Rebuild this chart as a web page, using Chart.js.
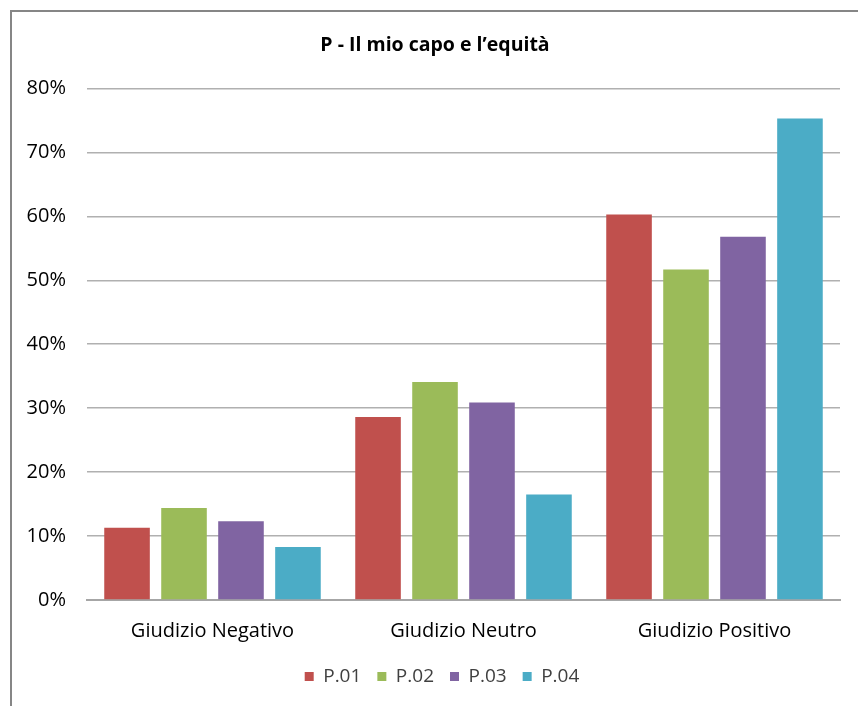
<!DOCTYPE html>
<html>
<head>
<meta charset="utf-8">
<script src="https://cdn.jsdelivr.net/npm/chart.js@4"></script>
<style>
html,body{margin:0;padding:0;background:#fff;}
#wrap{position:relative;width:858px;height:706px;}
</style>
</head>
<body>
<div id="wrap"><canvas id="c" width="858" height="706"></canvas></div>
<script>
const categories = ["Giudizio Negativo", "Giudizio Neutro", "Giudizio Positivo"];
const seriesNames = ["P.01", "P.02", "P.03", "P.04"];
const p01 = [0.113, 0.286, 0.603];
const p02 = [0.144, 0.341, 0.517];
const p03 = [0.123, 0.309, 0.568];
const p04 = [0.083, 0.165, 0.753];
const colors = ["#C0504D", "#9BBB59", "#8064A2", "#4BACC6"];
const titleText = "P - Il mio capo e l\u2019equità";

const FONT = "'Open Sans', 'DejaVu Sans', sans-serif";

const framePlugin = {
  id: 'frame',
  beforeDraw(chart) {
    const ctx = chart.ctx;
    ctx.save();
    ctx.fillStyle = '#ffffff';
    ctx.fillRect(0, 0, chart.width, chart.height);
    ctx.strokeStyle = '#868686';
    ctx.lineWidth = 2;
    ctx.strokeRect(11, 11, chart.width + 20, chart.height + 20);
    ctx.restore();
  },
  afterLayout(chart) {
    if (chart.titleBlock) { chart.titleBlock.left += 15; chart.titleBlock.right += 15; }
    if (chart.legend) { chart.legend.left += 22; chart.legend.right += 22; }
  }
};

const allSeries = [p01, p02, p03, p04];
new Chart(document.getElementById('c'), {
  type: 'bar',
  data: {
    labels: categories,
    datasets: seriesNames.map((n, i) => ({
      label: n,
      data: allSeries[i],
      backgroundColor: colors[i],
      borderWidth: 0,
      categoryPercentage: 0.908,
      barPercentage: 0.80
    }))
  },
  options: {
    responsive: false,
    animation: false,
    devicePixelRatio: 1,
    layout: { padding: { left: 0, right: 18, top: 0, bottom: 10 } },
    plugins: {
      title: {
        display: true,
        text: titleText,
        color: '#000',
        font: { family: FONT, size: 19.5, weight: 'bold' },
        padding: { top: 34, bottom: 31 }
      },
      legend: {
        position: 'bottom',
        labels: {
          color: '#404040',
          font: { family: FONT, size: 19 },
          boxWidth: 9,
          boxHeight: 9,
          padding: 16
        }
      },
      tooltip: { enabled: false }
    },
    scales: {
      x: {
        afterFit(scale) { scale.height = 51; },
        grid: { display: false, drawTicks: false },
        border: { display: true, color: '#A6A6A6', width: 2 },
        ticks: { color: '#000', font: { family: FONT, size: 20 }, padding: 19 }
      },
      y: {
        min: 0, max: 0.8,
        afterFit(scale) { scale.width = 87; },
        grid: { color: '#B0B0B0', lineWidth: 1.5, drawTicks: false },
        border: { display: false },
        ticks: {
          stepSize: 0.1,
          padding: 21,
          color: '#000',
          font: { family: FONT, size: 20 },
          callback: v => Math.round(v * 100) + '%'
        }
      }
    }
  },
  plugins: [framePlugin]
});
</script>
</body>
</html>
